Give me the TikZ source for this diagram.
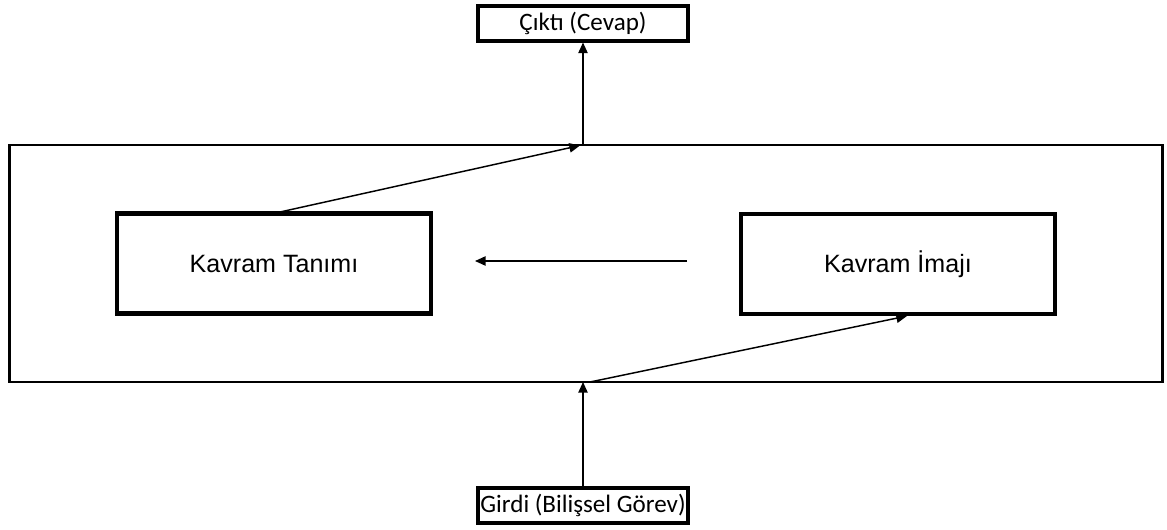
\documentclass[tikz,border=0pt]{standalone}
\usepackage{fontspec}
\setmainfont{Liberation Sans}
\newfontfamily\calib{Carlito}
\usetikzlibrary{arrows.meta}
\begin{document}
\begin{tikzpicture}[x=0.75pt,y=-0.75pt,
  outerbox/.style={draw,line width=2pt,minimum width=1153*0.75pt,minimum height=237*0.75pt,inner sep=0pt},
  conceptbox/.style={draw,line width=3.4pt,minimum width=314*0.75pt,minimum height=100*0.75pt,inner sep=0pt,font=\fontsize{18.8pt}{22pt}\selectfont},
  iobox/.style={draw,line width=3pt,minimum width=210*0.75pt,minimum height=35*0.75pt,inner sep=0pt,font=\calib\fontsize{18.8pt}{22pt}\selectfont},
  conn/.style={line width=1.1pt,-{Triangle[length=8pt,width=7pt]}}]
\useasboundingbox (0,0) rectangle (1167,529);
\node[outerbox] (outer) at (586,263.5) {};
\node[conceptbox] (tanim) at (274,263.5) {Kavram Tanımı};
\node[conceptbox] (imaj) at (898,264) {Kavram İmajı};
\node[iobox] (cikti) at (583,23) {Çıktı (Cevap)};
\node[iobox] (girdi) at (583,505) {Girdi (Bilişsel Görev)};
\coordinate (topjoin) at (583,145);
\coordinate (topend) at (580,145.5);
\coordinate (tanimtop) at (280,212);
\coordinate (botjoin) at (583,382);
\coordinate (botstart) at (590,382);
\coordinate (imajbot) at (907,316);
\coordinate (hstart) at (687,261);
\coordinate (hend) at (475,261);
\draw[conn] (tanimtop) -- (topend);
\draw[conn] (topjoin) -- (cikti.south);
\draw[conn] (girdi.north) -- (botjoin);
\draw[conn] (botstart) -- (imajbot);
\draw[conn] (hstart) -- (hend);
\end{tikzpicture}
\end{document}
